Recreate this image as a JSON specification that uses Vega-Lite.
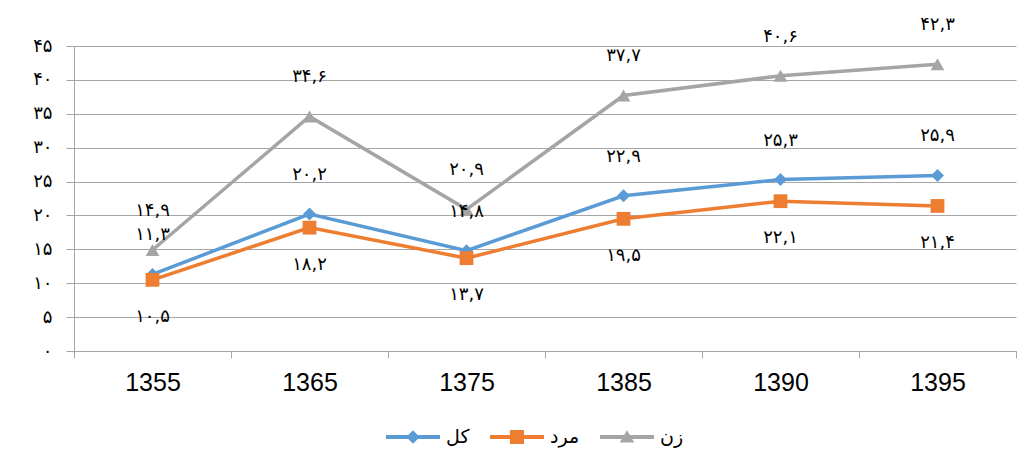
{
  "$schema": "https://vega.github.io/schema/vega-lite/v6.json",
  "width": 942,
  "height": 305,
  "autosize": "none",
  "padding": {"left": 74, "top": 46, "right": 16, "bottom": 117},
  "background": "white",
  "config": {"view": {"stroke": null}},
  "data": {"values": [
    {"series": "کل", "year": "1355", "value": 11.3, "label": "۱۱,۳"},
    {"series": "کل", "year": "1365", "value": 20.2, "label": "۲۰,۲"},
    {"series": "کل", "year": "1375", "value": 14.8, "label": "۱۴,۸"},
    {"series": "کل", "year": "1385", "value": 22.9, "label": "۲۲,۹"},
    {"series": "کل", "year": "1390", "value": 25.3, "label": "۲۵,۳"},
    {"series": "کل", "year": "1395", "value": 25.9, "label": "۲۵,۹"},
    {"series": "مرد", "year": "1355", "value": 10.5, "label": "۱۰,۵"},
    {"series": "مرد", "year": "1365", "value": 18.2, "label": "۱۸,۲"},
    {"series": "مرد", "year": "1375", "value": 13.7, "label": "۱۳,۷"},
    {"series": "مرد", "year": "1385", "value": 19.5, "label": "۱۹,۵"},
    {"series": "مرد", "year": "1390", "value": 22.1, "label": "۲۲,۱"},
    {"series": "مرد", "year": "1395", "value": 21.4, "label": "۲۱,۴"},
    {"series": "زن", "year": "1355", "value": 14.9, "label": "۱۴,۹"},
    {"series": "زن", "year": "1365", "value": 34.6, "label": "۳۴,۶"},
    {"series": "زن", "year": "1375", "value": 20.9, "label": "۲۰,۹"},
    {"series": "زن", "year": "1385", "value": 37.7, "label": "۳۷,۷"},
    {"series": "زن", "year": "1390", "value": 40.6, "label": "۴۰,۶"},
    {"series": "زن", "year": "1395", "value": 42.3, "label": "۴۲,۳"}
  ]},
  "encoding": {
    "x": {
      "field": "year", "type": "ordinal",
      "scale": {"type": "band", "paddingInner": 0, "paddingOuter": 0},
      "axis": {
        "title": null, "labelAngle": 0, "labelFontSize": 25, "labelFont": "Liberation Sans",
        "labelColor": "#000000", "domainColor": "#a6a6a6", "tickColor": "#a6a6a6",
        "tickSize": 7, "tickBand": "extent", "grid": false, "labelPadding": 12
      }
    },
    "y": {
      "field": "value", "type": "quantitative",
      "scale": {"domain": [0, 45], "nice": false},
      "axis": {
        "title": null, "values": [0, 5, 10, 15, 20, 25, 30, 35, 40, 45],
        "labelExpr": "['۰','۵','۱۰','۱۵','۲۰','۲۵','۳۰','۳۵','۴۰','۴۵'][round(datum.value/5)]",
        "grid": true, "gridColor": "#a6a6a6", "domainColor": "#a6a6a6", "tickColor": "#a6a6a6",
        "tickSize": 8, "labelFontSize": 18, "labelFont": "DejaVu Sans", "labelColor": "#000000",
        "labelPadding": 14
      }
    }
  },
  "layer": [
    {
      "transform": [{"filter": "datum.series == 'کل'"}],
      "mark": {"type": "line", "strokeWidth": 3.5, "color": "#5B9BD5"}
    },
    {
      "transform": [{"filter": "datum.series == 'کل'"}],
      "mark": {"type": "point", "shape": "diamond", "filled": true, "opacity": 1, "size": 170, "color": "#5B9BD5"}
    },
    {
      "transform": [{"filter": "datum.series == 'مرد'"}],
      "mark": {"type": "line", "strokeWidth": 3.5, "color": "#ED7D31"}
    },
    {
      "transform": [{"filter": "datum.series == 'مرد'"}],
      "mark": {"type": "point", "shape": "square", "filled": true, "opacity": 1, "size": 190, "color": "#ED7D31"}
    },
    {
      "transform": [{"filter": "datum.series == 'زن'"}],
      "mark": {"type": "line", "strokeWidth": 3.5, "color": "#A5A5A5"}
    },
    {
      "transform": [{"filter": "datum.series == 'زن'"}],
      "mark": {"type": "point", "shape": "triangle-up", "filled": true, "opacity": 1, "size": 190, "color": "#A5A5A5"}
    },
    {
      "transform": [{"filter": "datum.series != 'مرد'"}],
      "mark": {"type": "text", "dy": -39, "baseline": "middle", "align": "center", "fontSize": 18, "font": "DejaVu Sans", "color": "#000000"},
      "encoding": {"text": {"field": "label"}}
    },
    {
      "transform": [{"filter": "datum.series == 'مرد'"}],
      "mark": {"type": "text", "dy": 37, "baseline": "middle", "align": "center", "fontSize": 18, "font": "DejaVu Sans", "color": "#000000"},
      "encoding": {"text": {"field": "label"}}
    },
    {
      "mark": {"type": "point", "filled": true, "opacity": 0},
      "encoding": {
        "color": {"field": "series", "type": "nominal",
          "scale": {"domain": ["کل", "مرد", "زن"], "range": ["#5B9BD5", "#ED7D31", "#A5A5A5"]},
          "legend": {"orient": "none", "legendX": 312, "legendY": 364, "direction": "horizontal", "title": null, "labelFont": "DejaVu Sans", "labelFontSize": 19, "labelColor": "#000000", "symbolSize": 2916, "symbolStrokeWidth": 0, "symbolOpacity": 1, "columnPadding": 20, "labelOffset": 6}},
        "shape": {"field": "series", "type": "nominal",
          "scale": {"domain": ["کل", "مرد", "زن"], "range": [
            "M-1,-0.07H1V0.07H-1Z M0,-0.25L0.25,0L0,0.25L-0.25,0Z",
            "M-1,-0.07H1V0.07H-1Z M-0.26,-0.26H0.26V0.26H-0.26Z",
            "M-1,-0.07H1V0.07H-1Z M0,-0.25L0.27,0.2L-0.27,0.2Z"
          ]},
          "legend": {"orient": "none", "legendX": 312, "legendY": 364, "direction": "horizontal", "title": null, "labelFont": "DejaVu Sans", "labelFontSize": 19, "labelColor": "#000000", "symbolSize": 2916, "symbolStrokeWidth": 0, "symbolOpacity": 1, "columnPadding": 20, "labelOffset": 6}}
      }
    }
  ]
}
